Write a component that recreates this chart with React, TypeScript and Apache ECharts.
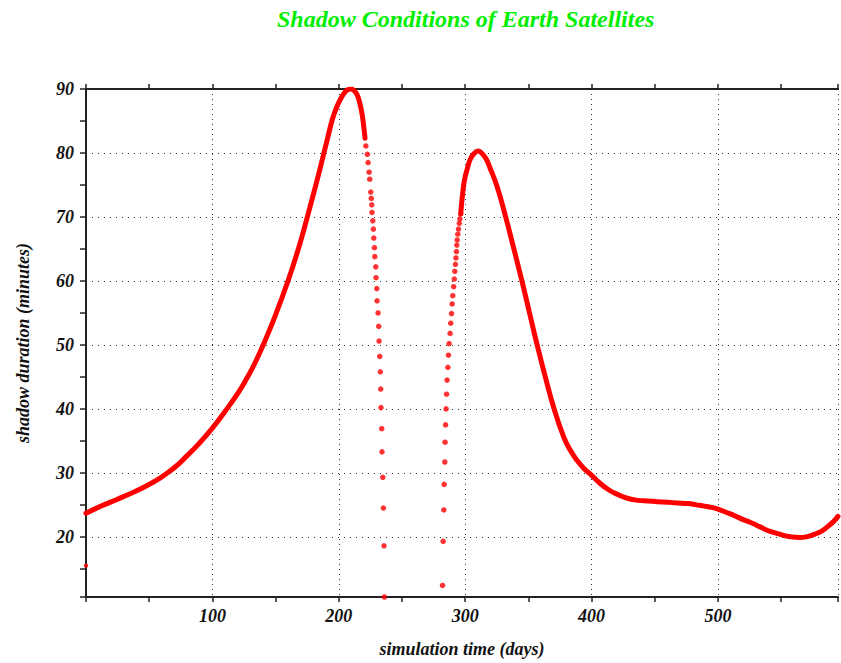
import React, { useEffect, useRef } from "react";
import * as echarts from "echarts";

const TITLE = "Shadow Conditions of Earth Satellites";
const X_NAME = "simulation time (days)";
const Y_NAME = "shadow duration (minutes)";

const X_MIN = 0;
const X_MAX = 595;
const Y_MIN = 10.6;
const Y_MAX = 90;

// isolated first sample
const startDays = [0];
const startVals = [15.5];

// continuous part before the first shadow gap
const daysA = [0, 8, 16, 24, 32, 40, 48, 56, 63, 71, 79, 89, 100, 110, 121, 127, 133, 140, 150, 160, 168, 175, 182, 188, 191.5, 195, 198, 201.6, 204.5, 207, 209.5, 212, 214.5, 216.5, 218.5, 220, 220.8];
const valsA = [23.7, 24.45, 25.15, 25.8, 26.5, 27.2, 28.0, 28.85, 29.8, 31.0, 32.5, 34.5, 37.0, 39.6, 42.7, 44.7, 46.9, 49.9, 54.7, 60.1, 65.0, 69.9, 75.1, 79.8, 82.6, 85.3, 87.0, 88.5, 89.4, 89.9, 90.0, 89.8, 89.1, 87.9, 86.0, 83.7, 82.3];

// sparse samples on the steep fall
const daysD = [221.4, 222.6, 223.2, 224.0, 224.5, 225.3, 225.7, 226.1, 226.3, 226.9, 227.4, 227.7, 228.2, 228.5, 229.3, 229.5, 230.1, 230.3, 231.1, 231.6, 231.9, 232.4, 232.9, 233.2, 233.4, 234.0, 234.2, 234.8, 235.3, 235.8, 236.1];
const valsD = [81.1, 79.8, 78.5, 77.0, 75.9, 73.9, 72.9, 71.9, 70.7, 69.4, 68.1, 66.7, 65.2, 63.8, 62.2, 60.5, 58.8, 56.9, 55.0, 52.9, 50.6, 48.2, 45.8, 43.1, 40.2, 36.9, 33.3, 29.3, 24.5, 18.6, 10.6];

// sparse samples on the steep rise
const daysU = [282.1, 282.6, 283.1, 283.4, 283.9, 284.1, 284.5, 284.9, 285.3, 285.7, 286.3, 286.8, 287.3, 288.1, 288.6, 289.2, 289.7, 290.2, 290.9, 291.4, 291.8, 292.3, 292.7, 293.1, 293.4, 293.7, 294.2, 294.7, 295.4, 295.8, 296.5];
const valsU = [12.4, 19.3, 24.2, 28.2, 31.7, 34.8, 37.5, 40.0, 42.3, 44.5, 46.5, 48.4, 50.2, 51.8, 53.4, 54.9, 56.4, 57.7, 59.1, 60.3, 61.5, 62.6, 63.6, 64.6, 65.6, 66.4, 67.3, 68.1, 69.0, 69.7, 70.5];

// continuous part after the gap
const daysB = [296.5, 297.3, 298.2, 299.5, 301.5, 304, 307, 310, 313, 316.5, 320, 325.2, 331.8, 338.3, 344.9, 350.8, 356.7, 363.3, 370.4, 377.8, 383, 388.3, 394, 400.1, 406, 413.2, 421, 429, 437, 444.8, 452, 460.6, 468, 476.3, 483, 489.5, 495, 500.5, 507, 513.2, 520, 526.3, 533, 539.4, 546, 552.6, 558, 564.4, 570, 576.2, 582, 586.8, 591, 595];
const valsB = [70.5, 72.3, 74.0, 75.8, 77.4, 79.0, 79.9, 80.3, 80.0, 79.1, 77.5, 74.8, 70.2, 65.2, 60.0, 55.1, 50.2, 45.1, 40.0, 35.7, 33.6, 32.0, 30.7, 29.6, 28.5, 27.4, 26.6, 26.0, 25.7, 25.6, 25.5, 25.4, 25.3, 25.2, 25.0, 24.8, 24.6, 24.3, 23.8, 23.3, 22.7, 22.2, 21.6, 21.0, 20.6, 20.2, 20.0, 19.9, 20.0, 20.4, 20.9, 21.6, 22.3, 23.2];

const zip = (xs: number[], ys: number[]) => xs.map((x, i) => [x, ys[i]]);

const FONT = '"Liberation Serif", "Times New Roman", "DejaVu Serif", serif';
const RED = "#ff0000";

export default function App() {
  const ref = useRef<HTMLDivElement>(null);

  useEffect(() => {
    if (!ref.current) return;
    const chart = echarts.init(ref.current, undefined, { renderer: "svg" });
    const labelStyle = {
      fontFamily: FONT,
      fontSize: 18,
      fontStyle: "italic" as const,
      fontWeight: "bold" as const,
      color: "#111",
    };
    const axisLine = { show: true, lineStyle: { color: "#222", width: 2 } };
    const tick = { show: true, length: 5, lineStyle: { color: "#222", width: 1.5 } };
    const dotted = { show: true, lineStyle: { color: "#333", width: 1, type: [1, 5] as any } };

    chart.setOption({
      animation: false,
      backgroundColor: "#ffffff",
      title: {
        text: TITLE,
        left: 277,
        top: 7,
        padding: 0,
        textStyle: {
          color: "#00ee00",
          fontFamily: FONT,
          fontSize: 24,
          fontStyle: "italic",
          fontWeight: "bold",
        },
      },
      grid: { left: 86, right: 1, top: 89, bottom: 66, containLabel: false },
      xAxis: [
        {
          type: "value",
          position: "bottom",
          min: X_MIN,
          max: X_MAX,
          interval: 50,
          axisLine,
          axisTick: tick,
          axisLabel: {
            ...labelStyle,
            margin: 10,
            formatter: (v: number) => (v > 0 && v % 100 === 0 ? String(v) : ""),
          },
          splitLine: { show: false },
          name: X_NAME,
          nameLocation: "middle",
          nameGap: 43,
          nameTextStyle: labelStyle,
        },
        {
          type: "value",
          position: "top",
          min: X_MIN,
          max: X_MAX,
          interval: 50,
          axisLine,
          axisTick: tick,
          axisLabel: { show: false },
          splitLine: { show: false },
        },
        {
          type: "value",
          position: "bottom",
          min: X_MIN,
          max: X_MAX,
          interval: 100,
          axisLine: { show: false },
          axisTick: { show: false },
          axisLabel: { show: false },
          splitLine: { show: true, lineStyle: { color: "#333", width: 1, type: [1, 4] as any } },
        },
      ],
      yAxis: [
        {
          type: "value",
          position: "left",
          min: Y_MIN,
          max: Y_MAX,
          splitNumber: 16,
          axisLine,
          axisTick: { ...tick, length: 6 },
          axisLabel: {
            ...labelStyle,
            margin: 12,
            formatter: (v: number) => (Math.abs(v % 10) < 1e-6 && v >= 20 ? String(v) : ""),
          },
          splitLine: { show: false },
          name: Y_NAME,
          nameLocation: "middle",
          nameGap: 54,
          nameRotate: 90,
          nameTextStyle: labelStyle,
        },
        {
          type: "value",
          position: "left",
          min: Y_MIN,
          max: Y_MAX,
          splitNumber: 8,
          axisLine: { show: false },
          axisTick: { show: false },
          axisLabel: { show: false },
          splitLine: dotted,
        },
      ],
      series: [
        {
          type: "line",
          data: zip(daysA, valsA),
          showSymbol: false,
          smooth: 0.5,
          clip: true,
          lineStyle: { color: RED, width: 5, cap: "round", join: "round" },
          itemStyle: { color: RED },
        },
        {
          type: "scatter",
          data: zip(daysD, valsD),
          symbolSize: 5.5,
          itemStyle: { color: RED },
        },
        {
          type: "scatter",
          data: zip(daysU, valsU),
          symbolSize: 5.5,
          itemStyle: { color: RED },
        },
        {
          type: "line",
          data: zip(daysB, valsB),
          showSymbol: false,
          smooth: 0.5,
          clip: true,
          lineStyle: { color: RED, width: 5, cap: "round", join: "round" },
          itemStyle: { color: RED },
        },
        {
          type: "scatter",
          data: zip(startDays, startVals),
          symbolSize: 4.5,
          itemStyle: { color: RED },
        },
      ],
    });
    return () => chart.dispose();
  }, []);

  return (
    <div
      ref={ref}
      style={{ position: "fixed", left: 0, top: 0, width: 841, height: 663, background: "#fff" }}
    />
  );
}
